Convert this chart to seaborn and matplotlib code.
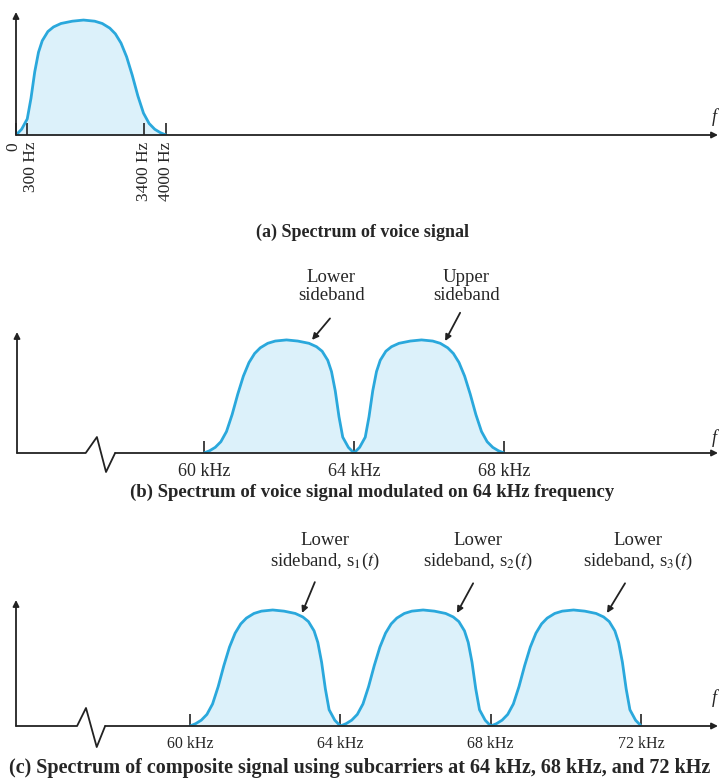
import matplotlib
matplotlib.use('Agg')
import matplotlib.pyplot as plt
import matplotlib.transforms as mtransforms
import seaborn as sns
import pandas as pd

sns.set_style('white')
plt.rcParams['font.family'] = ['Liberation Serif', 'DejaVu Serif']
plt.rcParams['mathtext.fontset'] = 'stix'

# voice spectrum shape (kHz, relative level)
voice_khz = [0, 0.15, 0.3, 0.4, 0.5, 0.6, 0.7, 0.85, 1.0, 1.2, 1.5, 1.8, 2.1,
             2.3, 2.5, 2.65, 2.8, 2.95, 3.1, 3.25, 3.4, 3.55, 3.7, 3.85, 4.0]
voice_level = [0, 0.05, 0.14, 0.32, 0.55, 0.72, 0.82, 0.90, 0.94, 0.97, 0.99, 1.0, 0.99,
               0.97, 0.93, 0.88, 0.80, 0.68, 0.52, 0.34, 0.19, 0.10, 0.05, 0.02, 0]

# panel (a) ticks
a_ticks = [0, 0.3, 3.4, 4.0]
a_labels = ['0', '300 Hz', '3400 Hz', '4000 Hz']

# panel (b): one carrier, both sidebands
b_carrier = 64
b_ticks = [60, 64, 68]
b_labels = ['60 kHz', '64 kHz', '68 kHz']
b_notes = ['Lower\nsideband', 'Upper\nsideband']
b_note_x = [63.39, 66.99]          # text centre (kHz)
b_arrow_from = [(63.36, 1.19), (66.83, 1.24)]
b_arrow_to = [(62.88, 1.0), (66.43, 0.99)]

# panel (c): three subcarriers, lower sidebands only
c_carriers = [64, 68, 72]
c_ticks = [60, 64, 68, 72]
c_labels = ['60 kHz', '64 kHz', '68 kHz', '72 kHz']
c_notes = ['Lower\nsideband, s$_1$($t$)', 'Lower\nsideband, s$_2$($t$)',
           'Lower\nsideband, s$_3$($t$)']
c_note_x = [63.59, 67.66, 71.91]
c_arrow_from = [(63.32, 1.24), (67.53, 1.23), (71.57, 1.23)]
c_arrow_to = [(62.98, 0.974), (67.10, 0.974), (71.09, 0.974)]

captions = ['(a) Spectrum of voice signal',
            '(b) Spectrum of voice signal modulated on 64 kHz frequency',
            '(c) Spectrum of composite signal using subcarriers at 64 kHz, 68 kHz, and 72 kHz']

line_c = '#2aa8dc'
fill_c = '#dcf1fa'
ink = '#222222'
W, H = 719, 780

fig = plt.figure(figsize=(W / 100, H / 100), dpi=100)


def px_axes(x0, x1, ybase, ytop):
    return fig.add_axes([x0 / W, (H - ybase) / H, (x1 - x0) / W, (ybase - ytop) / H])


def band(ax, f, lvl):
    df = pd.DataFrame({'f': f, 'lvl': lvl}).sort_values('f')
    ax.fill_between(df['f'], 0, df['lvl'], color=fill_c, lw=0, zorder=1)
    sns.lineplot(data=df, x='f', y='lvl', color=line_c, lw=2.0, ax=ax,
                 sort=False, estimator=None, zorder=3)


def frame(ax, ticks, labels, fsize, pad, f_up, zig=None, rot=0):
    ax.set_axisbelow(False)
    for s in ax.spines.values():
        s.set_visible(False)
    ax.set_xticks(ticks)
    ax.set_xticklabels(labels, rotation=rot, fontsize=fsize)
    ax.set_yticks([])
    ax.set_xlabel('')
    ax.set_ylabel('')
    ax.tick_params(axis='x', direction='in', length=9, width=1.2, color=ink,
                   pad=pad, bottom=True)
    ar = dict(arrowstyle='-|>', color=ink, lw=1.3, mutation_scale=9, shrinkA=0, shrinkB=0)
    ax.annotate('', xy=(0, 1), xytext=(0, 0), xycoords='axes fraction', arrowprops=ar)
    if zig is None:
        ax.annotate('', xy=(1, 0), xytext=(0, 0), xycoords='axes fraction', arrowprops=ar)
    else:
        zx, zy = zig
        ax.plot([0] + zx, [0] + zy, color=ink, lw=1.3, transform=ax.transAxes,
                clip_on=False, zorder=4)
        ax.annotate('', xy=(1, 0), xytext=(zx[-1], 0), xycoords='axes fraction', arrowprops=ar)
    ax.annotate('f', xy=(1, 0), xycoords='axes fraction', xytext=(-3, f_up * 0.72),
                textcoords='offset points', style='italic', fontsize=13,
                ha='center', va='center')


def notes(ax, texts, xs, tails, tips, y_text):
    for txt, x, t0, t1 in zip(texts, xs, tails, tips):
        ax.text(x, y_text, txt, ha='center', va='center', fontsize=13.5,
                linespacing=1.1, clip_on=False)
        ax.annotate('', xy=t1, xytext=t0,
                    arrowprops=dict(arrowstyle='-|>', color=ink, lw=1.3,
                                    mutation_scale=9, shrinkA=0, shrinkB=0),
                    annotation_clip=False)


def nudge(lbl, dx_px):
    lbl.set_transform(lbl.get_transform() +
                      mtransforms.ScaledTranslation(dx_px / 100, 0, fig.dpi_scale_trans))


# ---- panel (a)
ax = px_axes(16, 718, 135, 12)
band(ax, voice_khz, voice_level)
ax.set_xlim(0, 702 / 37.5)
ax.set_ylim(0, 1.07)
frame(ax, a_ticks, a_labels, 12.5, 5, 18, rot=90)
# "0" and "300 Hz" sit very close; spread them a little like the original
lbls = ax.get_xticklabels()
nudge(lbls[0], -3)
nudge(lbls[1], 4)

# ---- panel (b)
ax = px_axes(17, 718, 453, 332)
lo = 60 - 187 / 37.5
ax.set_xlim(lo, lo + 701 / 37.5)
ax.set_ylim(0, 1.07)
band(ax, [b_carrier - v for v in voice_khz], voice_level)
band(ax, [b_carrier + v for v in voice_khz], voice_level)
frame(ax, b_ticks, b_labels, 13, 7, 15,
      zig=([0.098, 0.114, 0.127, 0.140], [0, 0.132, -0.157, 0]))
notes(ax, b_notes, b_note_x, b_arrow_from, b_arrow_to, 1.47)

# ---- panel (c)
ax = px_axes(16, 718, 726, 600)
lo = 60 - 174 / 37.6
ax.set_xlim(lo, lo + 702 / 37.6)
ax.set_ylim(0, 1.086)
for cr in c_carriers:
    band(ax, [cr - v for v in voice_khz], voice_level)
frame(ax, c_ticks, c_labels, 11.5, 7, 28,
      zig=([0.087, 0.0997, 0.115, 0.127], [0, 0.143, -0.167, 0]))
notes(ax, c_notes, c_note_x, c_arrow_from, c_arrow_to, 1.50)

# captions
for txt, x, y, fs in zip(captions, [362, 372, 360], [232, 492, 768], [13, 13.5, 14.5]):
    fig.text(x / W, (H - y) / H, txt, ha='center', va='center', fontsize=fs,
             fontweight='bold')

fig.savefig('out.png', dpi=100)
